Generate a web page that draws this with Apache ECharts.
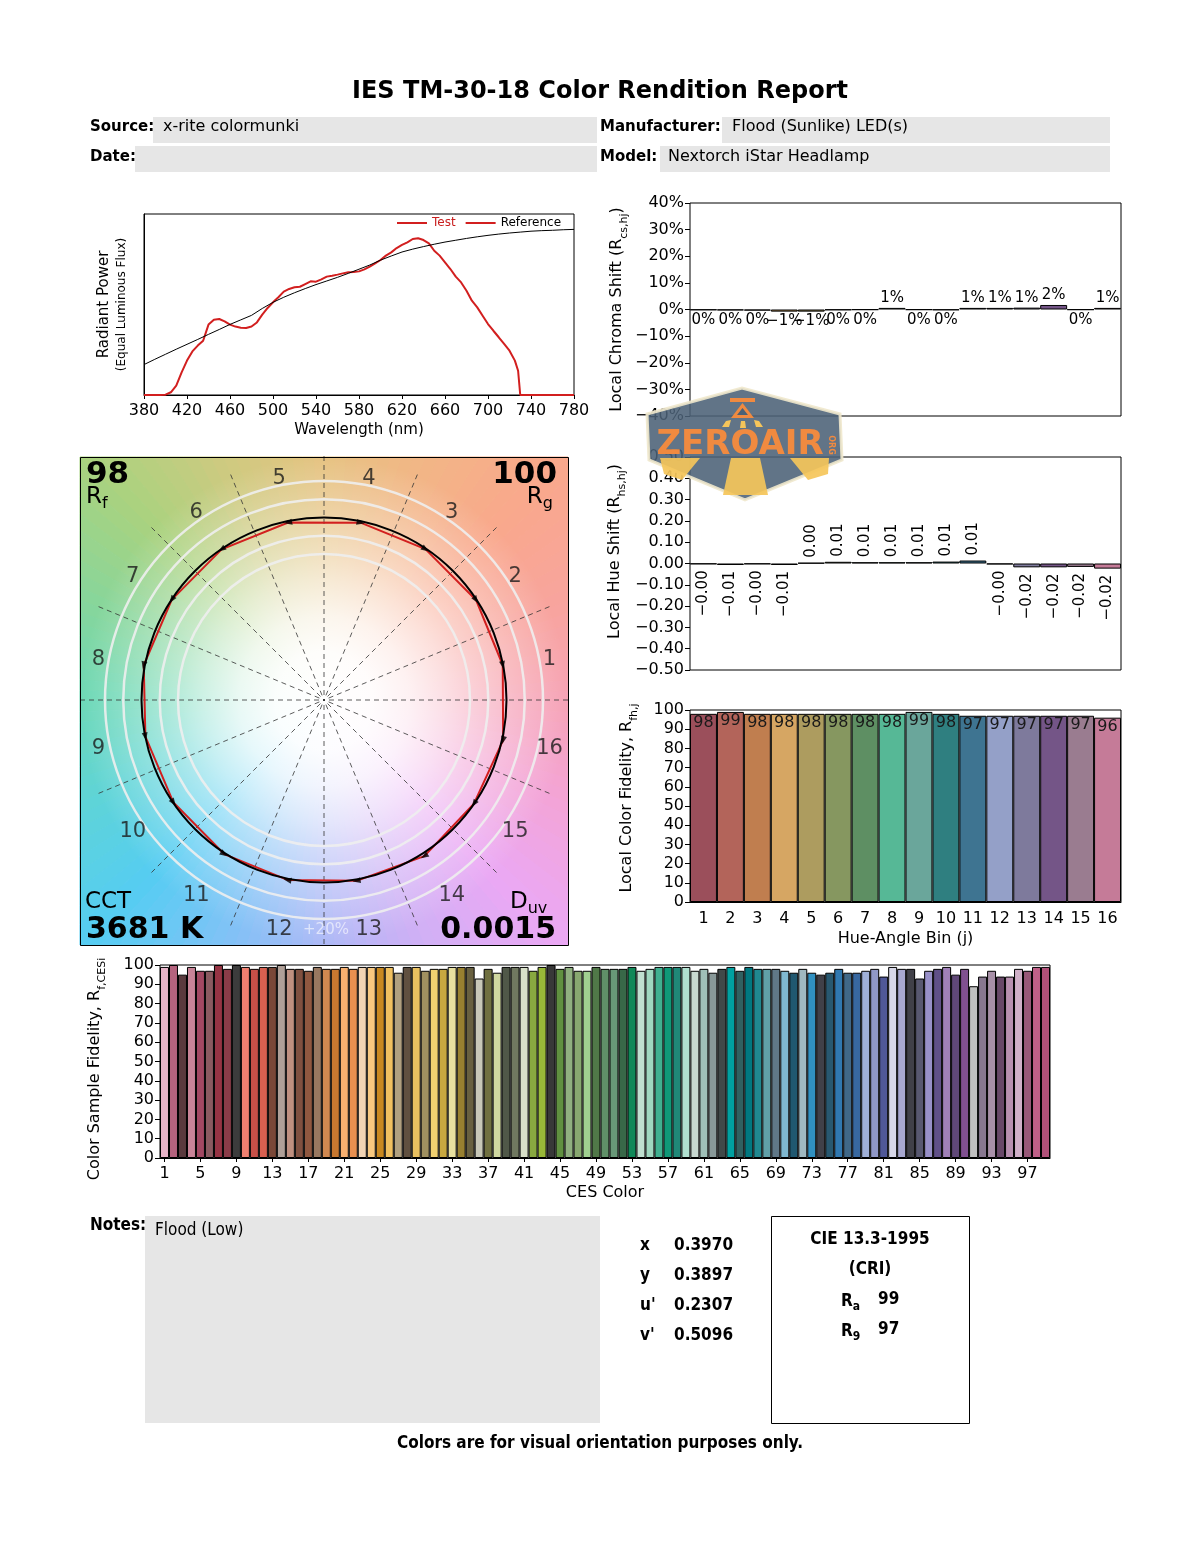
<!DOCTYPE html>
<html>
<head>
<meta charset="utf-8">
<title>IES TM-30-18 Color Rendition Report</title>
<script src="https://cdn.jsdelivr.net/npm/echarts@6.0.0/dist/echarts.min.js"></script>
<style>
html,body{margin:0;padding:0;background:#fff;}
#chart{width:1200px;height:1550px;}
</style>
</head>
<body>
<div id="chart"></div>
<script>
// ================= DATA =================
// Spectral power distribution (normalised, equal luminous flux)
const testWl  = [380,385,390,395,400,405,410,415,420,425,430,435,440,445,450,455,460,465,470,475,480,485,490,495,500,505,510,515,520,525,530,535,540,545,550,555,560,565,570,575,580,585,590,595,600,605,610,615,620,625,630,635,640,645,650,655,660,665,670,675,680,685,690,695,700,705,710,715,720,725,728,730,735,740,750,760,770,780];
const testSpd = [0,0,0,0,0.002,0.015,0.052,0.125,0.19,0.241,0.273,0.30,0.389,0.416,0.42,0.407,0.389,0.378,0.372,0.37,0.378,0.401,0.444,0.481,0.512,0.54,0.571,0.586,0.595,0.598,0.613,0.628,0.626,0.639,0.654,0.659,0.665,0.672,0.678,0.68,0.683,0.694,0.709,0.727,0.746,0.77,0.788,0.812,0.829,0.843,0.862,0.866,0.856,0.838,0.797,0.77,0.733,0.696,0.654,0.622,0.576,0.521,0.484,0.438,0.392,0.355,0.319,0.282,0.245,0.19,0.134,0,0,0,0,0,0,0];
const refWl  = [380,390,400,410,420,430,440,450,460,470,480,490,500,510,520,530,540,550,560,570,580,590,600,610,620,630,640,650,660,670,680,690,700,710,720,730,740,750,760,770,780];
const refSpd = [0.168,0.197,0.225,0.253,0.28,0.307,0.335,0.362,0.39,0.415,0.44,0.478,0.512,0.54,0.565,0.588,0.61,0.63,0.65,0.672,0.695,0.718,0.745,0.768,0.79,0.806,0.82,0.833,0.845,0.855,0.865,0.874,0.882,0.889,0.895,0.9,0.905,0.908,0.91,0.913,0.915];

// Hue-angle bins
const binLabels     = ['1','2','3','4','5','6','7','8','9','10','11','12','13','14','15','16'];
const chromaShift   = [-0.002,-0.003,-0.004,-0.008,-0.008,-0.002,-0.001,0.006,-0.001,-0.002,0.006,0.006,0.007,0.017,-0.001,0.006];
const hueShift      = [-0.003,-0.007,-0.003,-0.007,0.003,0.008,0.006,0.006,0.006,0.009,0.014,-0.004,-0.018,-0.018,-0.016,-0.024];
const localFidelity = [98,99,98,98,98,98,98,98,99,98,97,97,97,97,97,96];
const binColors     = ['#9b4f5b','#b3645a','#c07e4f','#d6a663','#ad9c5f','#869760','#5e8f63','#56b896','#6aa69b','#2f7f80','#3e7491','#94a0c8','#7e7a9c','#745587','#9a7c90','#c57b98'];

// CES colour samples
const cesLabels = Array.from({length: 99}, (_, i) => String(i + 1));
const cesFidelity = [
  99,100,95,99,97,97,100,98,100,99,
  98,99,99,100,98,98,97,99,98,98,
  99,98,99,99,99,99,96,99,99,97,
  98,98,99,99,99,93,98,96,99,99,
  99,97,99,100,98,99,97,97,99,98,
  98,98,99,97,98,99,99,99,99,97,
  98,96,98,99,97,99,98,98,98,97,
  96,98,96,95,96,98,96,96,97,98,
  94,99,98,98,93,97,98,99,95,98,
  89,94,97,94,94,98,97,99,99];
const cesColors = [
  '#e8b4c8','#b5637e','#5a3a3e','#c98498','#a24862','#8a5a60','#963444','#8a3c48','#3c3c3c','#f08070',
  '#c85048','#d86050','#7a4838','#b0a098','#c09080','#805040','#905840','#987860','#d08850','#c87830',
  '#f8b070','#e89050','#f2d4b4','#f8c880','#c88820','#f0c060','#b0a080','#605040','#e8c060','#a09060',
  '#f0d070','#c8a840','#e8e0a0','#988030','#686040','#c8c8b8','#707040','#d0d8a0','#505848','#707860',
  '#d8e0c8','#88a840','#98b838','#383838','#609040','#90b080','#88a870','#a0d090','#507848','#609068',
  '#689878','#386848','#108858','#c0e0d0','#a0d8c0','#40b090','#109878','#208878','#b0e0d0','#c8d8d0',
  '#a0c0b8','#889898','#404848','#00a0a0','#306060','#007880','#208890','#60a0a8','#607888','#80b8d0',
  '#205870','#a0b8c0','#3090c0','#404048','#285870','#3078b0','#406888','#3868a0','#a0b0d8','#9098c8',
  '#505898','#d8d8e8','#a8a8d0','#404048','#585870','#9890c8','#605088','#a080b8','#604878','#805090',
  '#c0c0c0','#887890','#a890a8','#684868','#b890b0','#d0b0c8','#985878','#c06088','#b05078'];

// Summary metrics
const metricRf = '98', metricRg = '100', metricCCT = '3681 K', metricDuv = '0.0015';
const chromNames  = ['x', 'y', "u'", "v'"];
const chromValues = ['0.3970', '0.3897', '0.2307', '0.5096'];
const criRa = '99', criR9 = '97';

// Header info
const sourceText = 'x-rite colormunki';
const manufacturerText = 'Flood (Sunlike) LED(s)';
const modelText = 'Nextorch iStar Headlamp';
const notesText = 'Flood (Low)';

// background hue-wheel anchor colours (style), every 22.5 deg ccw from +x
const wheelColors = ['#f6a3b6','#f8a49e','#f9a88c','#f2b686','#e6c382','#cfca80','#a9d27f','#86d69c','#6cd8b6','#5fd4d6','#55cdf2','#80c2f6','#acb8f6','#d0b0f5','#eba8f4','#f3a4d6'];

// ================= HELPERS =================
const FONT = "'DejaVu Sans', sans-serif";
const NARROW = "'Liberation Sans Narrow', 'DejaVu Sans Condensed', 'Liberation Sans', sans-serif";
const MINUS = '\u2212';
const fmtSigned = s => s.replace('-', MINUS);

function hex2rgb(h){ h = h.replace('#',''); return [parseInt(h.substr(0,2),16), parseInt(h.substr(2,2),16), parseInt(h.substr(4,2),16)]; }
function wheelColorAt(deg){
  const n = wheelColors.length, step = 360 / n;
  const p = ((deg % 360) + 360) % 360 / step;
  const i0 = Math.floor(p) % n, i1 = (i0 + 1) % n, t = p - Math.floor(p);
  const a = hex2rgb(wheelColors[i0]), b = hex2rgb(wheelColors[i1]);
  return 'rgb(' + a.map((v, k) => Math.round(v + (b[k] - v) * t)).join(',') + ')';
}

// Colour vector graphic geometry
const CX = 324, CY = 700, R_REF = 182.5, HALF = 244, LABEL_R = 1.26;
const wedgeStep = 2.5;
const wedges = [];
for (let a = 0; a < 360; a += wedgeStep) wedges.push([a, a + wedgeStep]);

const testPts = binLabels.map((b, j) => [1 + chromaShift[j], (j + 0.5) * 22.5 + hueShift[j] * 180 / Math.PI]);
const testLoop = testPts.concat([testPts[0]]);
const arrowPts = testPts.map((p, j) => ({value: p, symbolRotate: hueShift[j] >= 0 ? p[1] : p[1] + 180}));
const binLabelPts = binLabels.map((b, j) => ({value: [LABEL_R, (j + 0.5) * 22.5], name: b}));

const ringScales = [0.8, 0.9, 1.1, 1.2];

// ================= CHART =================
const chart = echarts.init(document.getElementById('chart'), null, {renderer: 'canvas', width: 1200, height: 1550});

function txt(x, y, text, size, o) {
  o = o || {};
  return {
    type: 'text', x: x, y: y, z: o.z || 10, silent: true,
    style: Object.assign({
      text: text, fontSize: size, fontFamily: o.font || FONT,
      fontWeight: o.bold ? 'bold' : 'normal', fill: o.color || '#000',
      align: o.align || 'left', verticalAlign: 'middle'
    }, o.style || {})
  };
}
function box(x, y, w, h, fill, stroke, z) {
  return {type: 'rect', z: z || 1, silent: true, shape: {x: x, y: y, width: w, height: h},
    style: {fill: fill || 'none', stroke: stroke || null, lineWidth: 1}};
}

const axisBlack = {lineStyle: {color: '#000', width: 1}};
const gridBase = {show: true, borderColor: '#000', borderWidth: 1, backgroundColor: 'transparent', outerBoundsMode: 'none', containLabel: false};

const subRich = (big, small) => ({
  n: {fontSize: big, lineHeight: 26, fontFamily: FONT, color: '#000'},
  s: {fontSize: small, lineHeight: 13, verticalAlign: 'bottom', fontFamily: FONT, color: '#000'}
});

const option = {
  animation: false,
  backgroundColor: '#fff',
  textStyle: {fontFamily: FONT, color: '#000'},
  grid: [
    Object.assign({left: 144, top: 214, width: 430, height: 181}, gridBase),
    Object.assign({left: 690, top: 203, width: 431, height: 213}, gridBase),
    Object.assign({left: 690, top: 457, width: 431, height: 213}, gridBase),
    Object.assign({left: 690, top: 710, width: 431, height: 192}, gridBase),
    Object.assign({left: 160, top: 965, width: 890, height: 193}, gridBase),
    {left: 80, top: 457, width: 488, height: 488, show: false, outerBoundsMode: 'none', containLabel: false}
  ],
  xAxis: [
    {gridIndex: 0, type: 'value', min: 380, max: 780, interval: 40,
      axisLine: axisBlack, axisTick: {show: true, length: 4, lineStyle: {color: '#000'}},
      axisLabel: {fontSize: 16, color: '#000', margin: 8}, splitLine: {show: false},
      name: 'Wavelength (nm)', nameLocation: 'middle', nameGap: 28, nameTextStyle: {fontSize: 15, color: '#000'}},
    {gridIndex: 1, type: 'category', data: binLabels, axisLine: {show: false}, axisTick: {show: false}, axisLabel: {show: false}},
    {gridIndex: 2, type: 'category', data: binLabels, axisLine: {show: false}, axisTick: {show: false}, axisLabel: {show: false}},
    {gridIndex: 3, type: 'category', data: binLabels, axisLine: axisBlack, axisTick: {show: false},
      axisLabel: {fontSize: 16, color: '#000', margin: 9},
      name: 'Hue-Angle Bin (j)', nameLocation: 'middle', nameGap: 29, nameTextStyle: {fontSize: 16, color: '#000'}},
    {gridIndex: 4, type: 'category', data: cesLabels, axisLine: axisBlack,
      axisTick: {show: true, interval: 3, alignWithLabel: true, length: 4, lineStyle: {color: '#000'}},
      axisLabel: {interval: 3, fontSize: 16, color: '#000', margin: 8},
      name: 'CES Color', nameLocation: 'middle', nameGap: 27, nameTextStyle: {fontSize: 16, color: '#000'}},
    {gridIndex: 5, type: 'value', min: -1, max: 1, show: false}
  ],
  yAxis: [
    {gridIndex: 0, type: 'value', min: 0, max: 1, axisLine: axisBlack, axisTick: {show: false},
      axisLabel: {show: false}, splitLine: {show: false},
      name: '{a|Radiant Power}\n{b|(Equal Luminous Flux)}', nameLocation: 'middle', nameRotate: 90, nameGap: 14,
      nameTextStyle: {rich: {a: {fontSize: 15, lineHeight: 19, fontFamily: FONT, color: '#000'},
                             b: {fontSize: 12, lineHeight: 16, fontFamily: FONT, color: '#000'}}}},
    {gridIndex: 1, type: 'value', min: -0.4, max: 0.4, interval: 0.1, axisLine: axisBlack,
      axisTick: {show: true, length: 5, lineStyle: {color: '#000'}}, splitLine: {show: false},
      axisLabel: {fontSize: 16, color: '#000', margin: 6,
        formatter: v => { const p = Math.round(v * 100); return (p < 0 ? MINUS : '') + Math.abs(p) + '%'; }},
      name: '{n|Local Chroma Shift (R}{s|cs,hj}{n|)}', nameLocation: 'middle', nameRotate: 90, nameGap: 60,
      nameTextStyle: {rich: subRich(16, 11)}},
    {gridIndex: 2, type: 'value', min: -0.5, max: 0.5, interval: 0.1, axisLine: axisBlack,
      axisTick: {show: true, length: 5, lineStyle: {color: '#000'}}, splitLine: {show: false},
      axisLabel: {fontSize: 16, color: '#000', margin: 6,
        formatter: v => { const r = Math.round(v * 100) / 100; return (r < 0 ? MINUS : '') + Math.abs(r).toFixed(2); }},
      name: '{n|Local Hue Shift (R}{s|hs,hj}{n|)}', nameLocation: 'middle', nameRotate: 90, nameGap: 62,
      nameTextStyle: {rich: subRich(16, 11), padding: [0, 0, 0, 24]}},
    {gridIndex: 3, type: 'value', min: 0, max: 100, interval: 10, axisLine: axisBlack,
      axisTick: {show: true, length: 5, lineStyle: {color: '#000'}}, splitLine: {show: false},
      axisLabel: {fontSize: 16, color: '#000', margin: 6},
      name: '{n|Local Color Fidelity, R}{s|fh,j}', nameLocation: 'middle', nameRotate: 90, nameGap: 50,
      nameTextStyle: {rich: subRich(16, 11), padding: [0, 0, 0, 16]}},
    {gridIndex: 4, type: 'value', min: 0, max: 100, interval: 10, axisLine: axisBlack,
      axisTick: {show: true, length: 5, lineStyle: {color: '#000'}}, splitLine: {show: false},
      axisLabel: {fontSize: 16, color: '#000', margin: 6},
      name: '{n|Color Sample Fidelity, R}{s|f,CESi}', nameLocation: 'middle', nameRotate: 90, nameGap: 52,
      nameTextStyle: {rich: subRich(16, 11), padding: [0, 15, 0, 0]}},
    {gridIndex: 5, type: 'value', min: -1, max: 1, show: false}
  ],
  polar: [
    {center: [CX, CY], radius: HALF}
  ].concat(ringScales.map(s => ({center: [CX, CY], radius: s * R_REF})))
   .concat([{center: [CX, CY], radius: R_REF}]),
  angleAxis: [
    {polarIndex: 0, type: 'value', min: 0, max: 360, interval: 22.5, startAngle: 0, clockwise: false, z: 3,
      axisLine: {show: false}, axisTick: {show: false}, axisLabel: {show: false},
      splitLine: {show: true, lineStyle: {color: '#333', width: 0.8, type: [5, 4]}}}
  ].concat(ringScales.map((s, i) => ({polarIndex: i + 1, type: 'value', min: 0, max: 360, startAngle: 0, clockwise: false, z: 3,
      axisLine: {show: true, lineStyle: {color: 'rgba(238,238,238,0.9)', width: 2.5}},
      axisTick: {show: false}, axisLabel: {show: false}, splitLine: {show: false}})))
   .concat([{polarIndex: ringScales.length + 1, type: 'value', min: 0, max: 360, startAngle: 0, clockwise: false, z: 5,
      axisLine: {show: true, lineStyle: {color: '#000', width: 2}},
      axisTick: {show: false}, axisLabel: {show: false}, splitLine: {show: false}}]),
  radiusAxis: [
    {polarIndex: 0, type: 'value', min: 0, max: HALF / R_REF, show: false}
  ].concat(ringScales.map((s, i) => ({polarIndex: i + 1, type: 'value', show: false})))
   .concat([{polarIndex: ringScales.length + 1, type: 'value', show: false}]),
  legend: {
    left: 397, top: 217, itemWidth: 30, itemHeight: 2, itemGap: 10, padding: 0,
    textStyle: {fontSize: 12, fontFamily: FONT, color: '#000'},
    data: [
      {name: 'Test', icon: 'rect', itemStyle: {color: '#d21f1f'}, textStyle: {color: '#c81e1e'}},
      {name: 'Reference', icon: 'rect', itemStyle: {color: '#d21f1f'}, textStyle: {color: '#000'}}
    ]
  },
  series: [
    // spectral power distribution
    {name: 'Test', type: 'line', xAxisIndex: 0, yAxisIndex: 0, symbol: 'none', z: 3,
      data: testWl.map((w, i) => [w, testSpd[i]]), lineStyle: {color: '#d21f1f', width: 2}, itemStyle: {color: '#d21f1f'}},
    {name: 'Reference', type: 'line', xAxisIndex: 0, yAxisIndex: 0, symbol: 'none', z: 4,
      data: refWl.map((w, i) => [w, refSpd[i]]), lineStyle: {color: '#000', width: 1}, itemStyle: {color: '#000'}},
    // local chroma shift
    {type: 'bar', xAxisIndex: 1, yAxisIndex: 1, barCategoryGap: '0%', barGap: '0%',
      itemStyle: {borderColor: '#000', borderWidth: 1},
      data: chromaShift.map((v, i) => ({value: v, itemStyle: {color: binColors[i]},
        label: {position: v >= 0 ? 'top' : 'bottom'}})),
      label: {show: true, fontSize: 15, color: '#000', distance: 2,
        formatter: p => { const r = Math.round(p.value * 100); return (r < 0 ? MINUS : '') + Math.abs(r) + '%'; }}},
    // local hue shift
    {type: 'bar', xAxisIndex: 2, yAxisIndex: 2, barCategoryGap: '0%', barGap: '0%',
      itemStyle: {borderColor: '#000', borderWidth: 1},
      data: hueShift.map((v, i) => ({value: v, itemStyle: {color: binColors[i]},
        label: v >= 0 ? {position: 'top', align: 'left', verticalAlign: 'middle', distance: 5}
                      : {position: 'bottom', align: 'right', verticalAlign: 'middle', distance: 6}})),
      label: {show: true, rotate: 90, fontSize: 15, color: '#000',
        formatter: p => fmtSigned(p.value.toFixed(2))}},
    // local color fidelity
    {type: 'bar', xAxisIndex: 3, yAxisIndex: 3, barCategoryGap: '0%', barGap: '0%',
      itemStyle: {borderColor: '#000', borderWidth: 1},
      data: localFidelity.map((v, i) => ({value: v, itemStyle: {color: binColors[i]}})),
      label: {show: true, position: 'insideTop', distance: 1, fontSize: 16, color: '#1a1a1a'}},
    // CES fidelity
    {type: 'bar', xAxisIndex: 4, yAxisIndex: 4, barCategoryGap: '0%', barGap: '0%',
      itemStyle: {borderColor: '#000', borderWidth: 1},
      data: cesFidelity.map((v, i) => ({value: v, itemStyle: {color: cesColors[i]}}))},
    // hue wheel background of the colour vector graphic
    {type: 'custom', xAxisIndex: 5, yAxisIndex: 5, z: 1, silent: true, clip: false,
      data: wedges,
      renderItem: function (params, api) {
        const a0 = api.value(0), a1 = api.value(1);
        const edge = deg => {
          const r = deg * Math.PI / 180, c = Math.cos(r), s = Math.sin(r);
          const t = 1 / Math.max(Math.abs(c), Math.abs(s));
          return api.coord([t * c, t * s]);
        };
        const col = wheelColorAt((a0 + a1) / 2);
        return {type: 'polygon', shape: {points: [api.coord([0, 0]), edge(a0), edge(a1)]},
          style: {fill: col, stroke: col, lineWidth: 1}};
      }},
    // test vector polygon
    {type: 'line', coordinateSystem: 'polar', polarIndex: 0, symbol: 'none', z: 4,
      data: testLoop, lineStyle: {color: '#d21f1f', width: 2}},
    // hue-shift arrow heads
    {type: 'scatter', coordinateSystem: 'polar', polarIndex: 0, symbol: 'triangle', symbolSize: [6, 8], z: 6,
      data: arrowPts, itemStyle: {color: '#000'}},
    // hue bin numbers
    {type: 'scatter', coordinateSystem: 'polar', polarIndex: 0, symbolSize: 1, z: 6,
      data: binLabelPts, itemStyle: {color: 'rgba(0,0,0,0)'},
      label: {show: true, position: 'inside', offset: [0, 4], formatter: '{b}', fontSize: 21, color: '#1a1a1a', fontFamily: FONT}}
  ],
  graphic: {elements: [
    // title & header
    txt(600, 92, 'IES TM-30-18 Color Rendition Report', 24, {bold: true, align: 'center'}),
    box(153, 117, 444, 26, '#e6e6e6'), box(135, 146, 462, 26, '#e6e6e6'),
    box(722, 117, 388, 26, '#e6e6e6'), box(660, 146, 450, 26, '#e6e6e6'),
    txt(90, 127, 'Source:', 15, {bold: true}), txt(163, 127, sourceText, 16),
    txt(90, 157, 'Date:', 15, {bold: true}),
    txt(600, 127, 'Manufacturer:', 15, {bold: true}), txt(732, 127, manufacturerText, 16),
    txt(600, 157, 'Model:', 15, {bold: true}), txt(668, 157, modelText, 16),
    // colour vector graphic overlay / frame
    {type: 'rect', z: 2, silent: true, shape: {x: 80, y: 457, width: 488, height: 488},
      style: {fill: {type: 'radial', x: 0.5, y: 0.5, r: 0.5, colorStops: [
        {offset: 0, color: 'rgba(255,255,255,1)'}, {offset: 0.2, color: 'rgba(255,255,255,0.97)'},
        {offset: 0.35, color: 'rgba(255,255,255,0.85)'}, {offset: 0.5, color: 'rgba(255,255,255,0.65)'},
        {offset: 0.6, color: 'rgba(255,255,255,0.5)'}, {offset: 0.75, color: 'rgba(255,255,255,0.3)'},
        {offset: 0.9, color: 'rgba(255,255,255,0.12)'}, {offset: 1, color: 'rgba(255,255,255,0)'}]}}},
    {type: 'rect', z: 8, silent: true, shape: {x: 80.5, y: 457.5, width: 488, height: 488},
      style: {fill: 'none', stroke: '#000', lineWidth: 1}},
    txt(86, 475, metricRf, 31, {bold: true, z: 9}),
    txt(86, 497, '{n|R}{s|f}', 23, {z: 9, style: {rich: {n: {fontSize: 23, lineHeight: 30, fontFamily: FONT}, s: {fontSize: 16, lineHeight: 15, verticalAlign: 'bottom', fontFamily: FONT}}}}),
    txt(557, 475, metricRg, 31, {bold: true, align: 'right', z: 9}),
    txt(553, 497, '{n|R}{s|g}', 23, {align: 'right', z: 9, style: {rich: {n: {fontSize: 23, lineHeight: 30, fontFamily: FONT}, s: {fontSize: 16, lineHeight: 15, verticalAlign: 'bottom', fontFamily: FONT}}}}),
    txt(85, 902, 'CCT', 23, {z: 9}),
    txt(86, 930, metricCCT, 30, {bold: true, z: 9}),
    txt(510, 902, '{n|D}{s|uv}', 23, {z: 9, style: {rich: {n: {fontSize: 23, lineHeight: 30, fontFamily: FONT}, s: {fontSize: 16, lineHeight: 15, verticalAlign: 'bottom', fontFamily: FONT}}}}),
    txt(556, 930, metricDuv, 30, {bold: true, align: 'right', z: 9}),
    txt(326, 930, '+20%', 15, {align: 'center', color: 'rgba(255,255,255,0.6)', z: 9}),
    // bottom section
    txt(90, 1226, 'Notes:', 17, {bold: true, font: NARROW}),
    box(145, 1216, 455, 207, '#e6e6e6'),
    txt(155, 1231, notesText, 17, {font: NARROW}),
    txt(640, 1246, chromNames[0], 17, {bold: true, font: NARROW}), txt(674, 1246, chromValues[0], 17, {bold: true, font: NARROW}),
    txt(640, 1276, chromNames[1], 17, {bold: true, font: NARROW}), txt(674, 1276, chromValues[1], 17, {bold: true, font: NARROW}),
    txt(640, 1306, chromNames[2], 17, {bold: true, font: NARROW}), txt(674, 1306, chromValues[2], 17, {bold: true, font: NARROW}),
    txt(640, 1336, chromNames[3], 17, {bold: true, font: NARROW}), txt(674, 1336, chromValues[3], 17, {bold: true, font: NARROW}),
    box(771.5, 1216.5, 198, 207, 'none', '#000'),
    txt(870, 1240, 'CIE 13.3-1995', 17, {bold: true, align: 'center', font: NARROW}),
    txt(870, 1270, '(CRI)', 17, {bold: true, align: 'center', font: NARROW}),
    txt(841, 1302, '{n|R}{s|a}', 17, {style: {rich: {n: {fontSize: 17, fontWeight: 'bold', lineHeight: 22, fontFamily: NARROW}, s: {fontSize: 12, fontWeight: 'bold', lineHeight: 12, verticalAlign: 'bottom', fontFamily: NARROW}}}}),
    txt(878, 1300, criRa, 17, {bold: true, font: NARROW}),
    txt(841, 1332, '{n|R}{s|9}', 17, {style: {rich: {n: {fontSize: 17, fontWeight: 'bold', lineHeight: 22, fontFamily: NARROW}, s: {fontSize: 12, fontWeight: 'bold', lineHeight: 12, verticalAlign: 'bottom', fontFamily: NARROW}}}}),
    txt(878, 1330, criR9, 17, {bold: true, font: NARROW}),
    txt(600, 1444, 'Colors are for visual orientation purposes only.', 17, {bold: true, align: 'center', font: NARROW}),
    // watermark badge (semi-transparent)
    {type: 'polygon', z: 20, silent: true, shape: {points: [[647,414],[742,388],[840,414],[842,460],[745,500],[649,460]]},
      style: {fill: 'rgba(75,97,118,0.88)', stroke: 'rgba(239,232,204,0.9)', lineWidth: 3}},
    {type: 'polygon', z: 21, silent: true, shape: {points: [[660,458],[700,458],[682,480],[664,474]]}, style: {fill: '#f5c55a', opacity: 0.92}},
    {type: 'polygon', z: 21, silent: true, shape: {points: [[731,458],[760,458],[768,495],[723,495]]}, style: {fill: '#f5c55a', opacity: 0.92}},
    {type: 'polygon', z: 21, silent: true, shape: {points: [[790,458],[829,458],[828,474],[808,480]]}, style: {fill: '#f5c55a', opacity: 0.92}},
    {type: 'rect', z: 21, silent: true, shape: {x: 730, y: 398, width: 25, height: 4}, style: {fill: '#f08a40'}},
    {type: 'polygon', z: 21, silent: true, shape: {points: [[731,418],[754,418],[742.5,403]]}, style: {fill: '#f08a40'}},
    {type: 'polygon', z: 22, silent: true, shape: {points: [[737,415],[748,415],[742.5,408]]}, style: {fill: '#4b6176'}},
    {type: 'polygon', z: 21, silent: true, shape: {points: [[726,421],[731,420],[729,427],[722,427]]}, style: {fill: '#f5c55a'}},
    {type: 'polygon', z: 21, silent: true, shape: {points: [[741,421],[745,421],[746,428],[740,428]]}, style: {fill: '#f5c55a'}},
    {type: 'polygon', z: 21, silent: true, shape: {points: [[754,420],[759,421],[763,427],[756,427]]}, style: {fill: '#f5c55a'}},
    txt(740, 445, 'ZEROAIR', 34, {bold: true, align: 'center', color: '#f08a40', z: 23}),
    {type: 'text', z: 23, silent: true, x: 831, y: 445, rotation: -Math.PI / 2,
      style: {text: 'ORG', fontSize: 8, fontWeight: 'bold', fontFamily: FONT, fill: '#f08a40', align: 'center', verticalAlign: 'middle'}}
  ]}
};

chart.setOption(option);
</script>
</body>
</html>
